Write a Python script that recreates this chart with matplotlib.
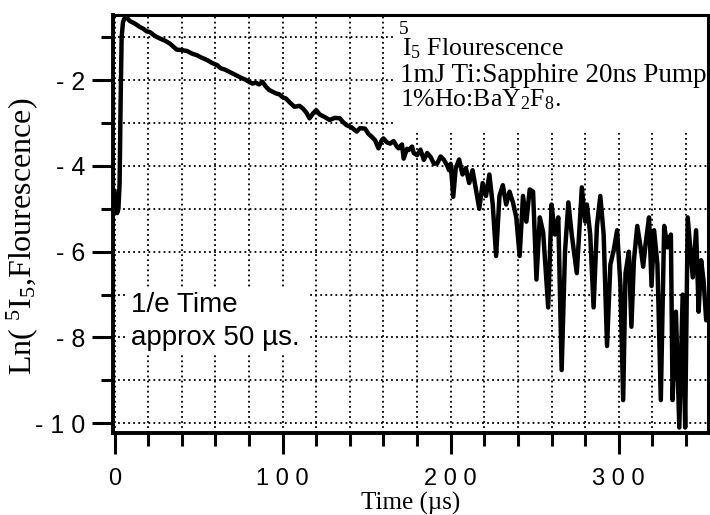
import matplotlib
matplotlib.use('Agg')
import matplotlib.pyplot as plt
from matplotlib.patches import Rectangle
from matplotlib.ticker import MultipleLocator, FixedLocator

# data: time (us) and ln of 5I5 fluorescence
time_us = [0, 0.8, 1.5, 2.3, 3.0, 3.6, 4.2, 5.0, 6.0, 7.5, 9,
           12, 15, 17, 19, 21, 24, 27, 30, 33, 35, 37, 40, 43, 46, 49, 52, 55, 58,
           61, 63, 66, 68, 70, 73, 76, 78, 80, 82, 84, 86, 88, 90, 92, 94, 96, 98,
           100, 102, 105, 107, 110, 112, 114, 116, 118, 120, 122, 123, 125, 128,
           131, 134, 136, 138, 141, 144, 146, 149, 151, 153, 155, 157, 159, 160,
           162, 164, 166, 168, 169, 171, 172, 174, 175, 177, 178, 180, 182, 184,
           186, 188, 190, 192, 194, 196, 198, 199, 200, 201.5, 203, 205, 207, 209,
           211, 213, 215, 217, 219, 221, 223, 225, 227, 229, 231, 233, 235, 237,
           239, 241, 243, 245, 247, 249, 251, 253, 255, 258, 260, 262, 264, 266,
           268, 270, 272, 275, 277, 278, 280, 281, 283, 285, 287, 289, 291, 293,
           295, 297, 299, 301, 302.6, 304, 306, 307.5, 309, 311, 313, 314.5, 316,
           318, 319.5, 321, 323, 325, 327, 329, 331, 332, 334, 336, 338, 339.5,
           341, 342.5, 344, 346, 347.5, 349, 350.5, 352, 353.5]
ln_fluor = [-4.6, -4.95, -5.1, -5.0, -4.4, -2.5, -1.0, -0.65, -0.55, -0.55, -0.62,
            -0.68, -0.76, -0.80, -0.86, -0.88, -0.97, -1.03, -1.08, -1.15, -1.22, -1.29,
            -1.30, -1.32, -1.38, -1.42, -1.48, -1.53, -1.60,
            -1.65, -1.72, -1.76, -1.80, -1.84, -1.90, -1.96, -1.99, -2.04, -2.08, -2.06,
            -2.10, -2.04, -2.15, -2.23, -2.27, -2.31, -2.33,
            -2.40, -2.43, -2.55, -2.62, -2.60, -2.66, -2.75, -2.89, -2.78, -2.70, -2.80,
            -2.82, -2.86, -2.93,
            -2.88, -2.89, -2.98, -3.05, -3.10, -3.20, -3.12, -3.13, -3.25, -3.32, -3.40,
            -3.59, -3.40, -3.36,
            -3.45, -3.48, -3.42, -3.55, -3.59, -3.50, -3.83, -3.60, -3.63, -3.55, -3.70,
            -3.75, -3.62, -3.86,
            -3.70, -3.79, -3.95, -3.94, -3.78, -3.86, -4.00, -4.10, -3.95, -4.72, -4.05,
            -3.85, -4.20, -4.05,
            -4.40, -4.10, -4.55, -5.00, -4.40, -4.70, -4.20, -4.90, -6.10, -4.70, -4.45,
            -4.90, -4.60, -4.85,
            -5.20, -6.10, -4.70, -5.30, -4.55, -4.60, -6.65, -5.20, -5.55, -7.30, -4.90,
            -5.60, -5.20, -8.76,
            -6.00, -4.85, -5.60, -6.50, -5.20, -4.50, -5.30, -4.90, -5.60, -7.30, -5.40,
            -4.70, -5.60, -8.20,
            -6.30, -5.96, -5.50, -6.80, -9.46, -6.50, -6.00, -7.75, -6.20, -5.40, -5.90,
            -6.35, -5.80,
            -5.20, -6.80, -5.50, -6.30, -9.46, -5.40, -5.90, -5.60, -9.46, -7.40, -10.10,
            -7.00, -10.10,
            -5.20, -5.90, -6.60, -5.50, -7.40, -6.20, -6.70, -7.60, -7.40]

xticks = [0, 100, 200, 300]
xticklabels = ['0', '1 0 0', '2 0 0', '3 0 0']
yticks = [-2, -4, -6, -8, -10]
yticklabels = ['- 2', '- 4', '- 6', '- 8', '- 1 0']

plt.rcParams['mathtext.fontset'] = 'custom'
plt.rcParams['mathtext.rm'] = 'Liberation Serif'
plt.rcParams['mathtext.it'] = 'Liberation Serif:italic'

serif = 'Liberation Serif'
sans = 'Liberation Sans'

fig = plt.figure(figsize=(7.1, 5.15), dpi=100)
ax = fig.add_axes([0.159, 0.159, 0.838, 0.812])

# grid first, trace on top
ax.set_axisbelow(True)
ax.grid(which='both', color='black', linestyle=(0, (1, 1.8)), linewidth=1.3)

ax.plot(time_us, ln_fluor, color='black', linewidth=3.2, solid_joinstyle='round', zorder=3)

ax.set_xlim(-1, 353)
ax.set_ylim(-10.23, -0.48)

ax.xaxis.set_major_locator(FixedLocator(xticks))
ax.xaxis.set_minor_locator(MultipleLocator(20))
ax.yaxis.set_major_locator(FixedLocator(yticks))
ax.yaxis.set_minor_locator(MultipleLocator(1))
ax.set_xticklabels(xticklabels, fontsize=17, family=sans)
ax.set_yticklabels(yticklabels, fontsize=18, family=sans)

ax.tick_params(which='major', direction='out', length=15, width=2.2)
ax.tick_params(which='minor', direction='out', length=9, width=2.2)
ax.tick_params(axis='x', which='major', pad=10)
ax.tick_params(axis='y', which='major', pad=5)
for s in ax.spines.values():
    s.set_linewidth(2.2)
ax.spines['left'].set_linewidth(2.8)
ax.spines['bottom'].set_linewidth(2.8)

ax.set_xlabel(u'Time (\u00b5s)', fontsize=18, family=serif)
ax.xaxis.set_label_coords(0.5, -0.14)
ax.set_ylabel(r'Ln( $^5$I$_5$,Flourescence)', fontsize=23, family=serif)
ax.yaxis.set_label_coords(-0.123, 0.47)

# white patches that hide the grid behind the annotations
ax.add_patch(Rectangle((0.474, 0.725), 0.526, 0.275, transform=ax.transAxes,
                       facecolor='white', edgecolor='none', zorder=2))
ax.add_patch(Rectangle((0.025, 0.187), 0.306, 0.162, transform=ax.transAxes,
                       facecolor='white', edgecolor='none', zorder=2))

ax.text(0.480, 0.966, '5', transform=ax.transAxes,
        fontsize=14, family=serif, va='center', zorder=4)
ax.text(0.486, 0.904, r'I$_5$ Flourescence', transform=ax.transAxes,
        fontsize=18.5, family=serif, va='baseline', zorder=4)
ax.text(0.482, 0.856, '1mJ Ti:Sapphire 20ns Pump', transform=ax.transAxes,
        fontsize=19.5, family=serif, va='center', zorder=4)
ax.text(0.482, 0.797, r'1%Ho:BaY$_2$F$_8$.', transform=ax.transAxes,
        fontsize=18.5, family=serif, va='center', zorder=4)

ax.text(0.03, 0.307, '1/e Time', transform=ax.transAxes,
        fontsize=20, family=sans, va='center', zorder=4)
ax.text(0.03, 0.228, u'approx 50 \u00b5s.', transform=ax.transAxes,
        fontsize=20, family=sans, va='center', zorder=4)

fig.savefig('out.png', dpi=100)
